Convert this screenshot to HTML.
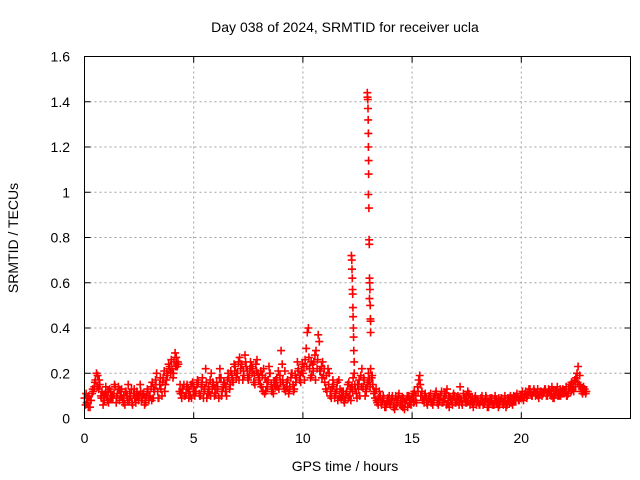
<!DOCTYPE html>
<html><head><meta charset="utf-8"><style>
html,body{margin:0;padding:0;background:#fff}
svg{display:block;font-family:"Liberation Sans",Arial,sans-serif}
</style></head><body>
<svg id="chart" width="640" height="480" viewBox="0 0 640 480">
<text x="345" y="32" font-size="14" text-anchor="middle">Day 038 of 2024, SRMTID for receiver ucla</text>
<text transform="translate(18,238) rotate(-90)" font-size="14" text-anchor="middle">SRMTID / TECUs</text>
<text x="345" y="471" font-size="14" text-anchor="middle">GPS time / hours</text>
<g id="grid"></g>
<g id="ticks"></g>
<g id="marks"></g>
<rect x="84.5" y="56.5" width="546" height="362" fill="none" stroke="#000" stroke-width="1"/>
</svg>
<script>
const xTicks=[0,5,10,15,20];
const xTickLabels=["0","5","10","15","20"];
const yTicks=[0,0.2,0.4,0.6,0.8,1,1.2,1.4,1.6];
const yTickLabels=["0","0.2","0.4","0.6","0.8","1","1.2","1.4","1.6"];
const seriesA=[
.09,.07,.10,.08,.12,.17,.19,.15,.12,.08,
.10,.07,.12,.09,.14,.11,.08,.13,.10,.12,
.15,.10,.06,.09,.12,.10,.08,.11,.07,.12,
.10,.16,.12,.20,.09,.13,.18,.15,.19,.23,
.22,.25,.27,.24,.11,.13,.10,.15,.12,.09,
.14,.12,.16,.10,.18,.13,.09,.12,.20,.15,
.11,.14,.22,.12,.15,.10,.18,.21,.16,.23,
.20,.27,.24,.19,.23,.17,.25,.22,.15,.26,
.18,.14,.22,.12,.17,.20,.13,.15,.18,.13,
.30,.15,.12,.17,.14,.20,.13,.18,.22,.16,
.20,.26,.38,.22,.19,.25,.30,.37,.21,.25,
.16,.12,.20,.09,.15,.11,.08,.13,.10,.07,
.12,.16,.08,.18,.13,.15,.10,.22,.17,.12,
.20,.22,.15,.09,.07,.12,.06,.09,.05,.08,
.06,.10,.04,.08,.11,.06,.09,.07,.05,.08,
.09,.12,.07,.17,.10,.08,.11,.06,.09,.07,
.08,.12,.06,.10,.07,.09,.13,.05,.08,.11,
.07,.10,.14,.06,.09,.07,.11,.08,.05,.10,
.08,.06,.10,.07,.09,.05,.08,.06,.10,.07,
.06,.09,.07,.05,.08,.10,.06,.09,.11,.08,
.10,.08,.12,.11,.13,.10,.12,.11,.09,.12,
.11,.13,.10,.12,.14,.09,.12,.11,.10,.13,
.12,.10,.14,.16,.12,.18,.23,.14,.11,.13];
const seriesB=[
.06,.09,.05,.11,.14,.20,.13,.10,.06,.11,
.08,.13,.09,.11,.07,.14,.12,.09,.06,.10,
.08,.13,.11,.07,.10,.15,.09,.06,.10,.08,
.14,.09,.17,.12,.15,.10,.21,.17,.24,.20,
.18,.29,.23,.12,.09,.15,.11,.13,.10,.16,
.10,.15,.11,.14,.09,.22,.11,.17,.13,.10,
.16,.09,.18,.14,.12,.17,.13,.19,.24,.18,
.25,.22,.17,.28,.21,.19,.23,.16,.24,.20,
.15,.19,.11,.16,.23,.15,.11,.17,.14,.19,
.24,.13,.16,.11,.18,.15,.19,.25,.17,.21,
.23,.31,.40,.18,.24,.28,.22,.34,.23,.19,
.13,.22,.10,.14,.09,.13,.17,.09,.12,.09,
.15,.10,.14,.20,.11,.13,.19,.14,.10,.15,
.17,.18,.11,.13,.06,.10,.08,.05,.07,.10,
.08,.05,.10,.07,.06,.09,.04,.08,.10,.06,
.11,.08,.14,.19,.12,.07,.09,.08,.11,.06,
.10,.07,.09,.12,.08,.11,.07,.09,.06,.10,
.09,.06,.08,.11,.07,.12,.06,.09,.08,.06,
.07,.09,.06,.08,.05,.07,.09,.06,.08,.05,
.08,.07,.10,.06,.09,.07,.10,.08,.09,.10,
.12,.10,.09,.13,.11,.12,.10,.13,.11,.10,
.12,.10,.13,.11,.09,.12,.14,.10,.12,.11,
.14,.11,.15,.13,.17,.20,.15,.12,.14,.11];
const seriesC=[
.11,.05,.08,.13,.16,.14,.17,.09,.10,.14,
.12,.09,.10,.15,.09,.13,.10,.07,.12,.08,
.11,.07,.13,.10,.08,.12,.11,.09,.13,.10,
.08,.13,.15,.09,.18,.16,.12,.20,.22,.26,
.20,.23,.25,.15,.13,.10,.14,.09,.15,.12,
.12,.17,.10,.15,.12,.16,.14,.10,.16,.13,
.13,.18,.10,.16,.14,.20,.15,.17,.21,.20,
.17,.24,.21,.25,.18,.22,.20,.19,.21,.17,
.21,.12,.18,.14,.20,.12,.16,.14,.21,.16,
.17,.21,.14,.13,.20,.12,.16,.21,.19,.24,
.17,.23,.27,.25,.21,.17,.26,.21,.18,.22,
.19,.15,.12,.17,.11,.16,.10,.12,.08,.11,
.09,.13,.12,.15,.09,.17,.14,.18,.13,.16,
.14,.19,.12,.08,.09,.07,.10,.06,.09,.07,
.09,.07,.06,.10,.08,.05,.07,.10,.07,.09,
.07,.10,.12,.15,.08,.10,.07,.10,.07,.09,
.11,.09,.08,.07,.11,.06,.10,.08,.10,.07,
.08,.09,.07,.09,.10,.08,.09,.07,.09,.08,
.06,.08,.07,.10,.07,.09,.06,.08,.07,.09,
.09,.06,.08,.09,.07,.09,.08,.10,.08,.09,
.09,.11,.10,.12,.10,.13,.11,.10,.12,.11,
.13,.11,.12,.10,.12,.11,.10,.13,.11,.12,
.10,.13,.12,.15,.14,.16,.19,.13,.12,.12];
const spikeTimes=[12.22,12.24,12.25,12.26,12.27,12.28,12.29,12.3,12.31,12.32,12.33,12.35,
12.95,12.96,12.97,12.98,12.99,13.0,13.0,13.01,13.01,13.0,13.02,13.03,13.04,13.05,13.06,13.07,13.05,13.08,13.09,13.1,13.1];
const spikeValues=[0.72,0.70,0.66,0.62,0.57,0.55,0.49,0.45,0.40,0.36,0.30,0.25,
1.44,1.42,1.41,1.37,1.32,1.26,1.20,1.14,1.08,0.99,0.93,0.79,0.77,0.62,0.60,0.57,0.53,0.50,0.44,0.43,0.38];

const NS="http://www.w3.org/2000/svg";
const X0=84.5,X1=630.5,Y0=418.5,Y1=56.5;
function xs(t){return X0+(X1-X0)*t/25;}
function ys(v){return Y0-(Y0-Y1)*v/1.6;}
function mk(tag,attrs,parent){const e=document.createElementNS(NS,tag);for(const k in attrs)e.setAttribute(k,attrs[k]);parent.appendChild(e);return e;}
const grid=document.getElementById('grid'),ticks=document.getElementById('ticks'),marks=document.getElementById('marks');
yTicks.forEach((v,i)=>{
  const y=ys(v);
  if(i>0&&i<yTicks.length-1){const g=mk('line',{x1:X0,x2:X1,y1:y,y2:y,stroke:'#a0a0a0','stroke-dasharray':'2,3'},grid);
  
  }
  mk('line',{x1:X0,x2:X0+6,y1:y,y2:y,stroke:'#000'},ticks);
  mk('line',{x1:X1-6,x2:X1,y1:y,y2:y,stroke:'#000'},ticks);
  const t=mk('text',{x:70,y:y+5,'font-size':14,'text-anchor':'end'},ticks);
  t.textContent=yTickLabels[i];
  
  
});
xTicks.forEach((v,i)=>{
  const x=xs(v);
  if(i>0){const g=mk('line',{x1:x,x2:x,y1:Y0,y2:Y1,stroke:'#a0a0a0','stroke-dasharray':'2,3'},grid);
  
  }
  mk('line',{x1:x,x2:x,y1:Y0,y2:Y0-6,stroke:'#000'},ticks);
  mk('line',{x1:x,x2:x,y1:Y1,y2:Y1+6,stroke:'#000'},ticks);
  const t=mk('text',{x:x,y:443,'font-size':14,'text-anchor':'middle'},ticks);
  t.textContent=xTickLabels[i];
  
  
});
let d='';
function plus(t,v){const x=xs(t),y=ys(v);d+=`M${(x-4).toFixed(1)},${y.toFixed(1)}h8M${x.toFixed(1)},${(y-4).toFixed(1)}v8`;}
seriesA.forEach((v,i)=>plus(i*0.1,v));
seriesB.forEach((v,i)=>plus(i*0.1+0.05,v));
seriesC.forEach((v,i)=>plus(i*0.1+0.075,v));
spikeTimes.forEach((t,i)=>plus(t,spikeValues[i]));
const p=mk('path',{d:d,stroke:'#ff0000','stroke-width':1.6,fill:'none'},marks);


</script>
</body></html>
